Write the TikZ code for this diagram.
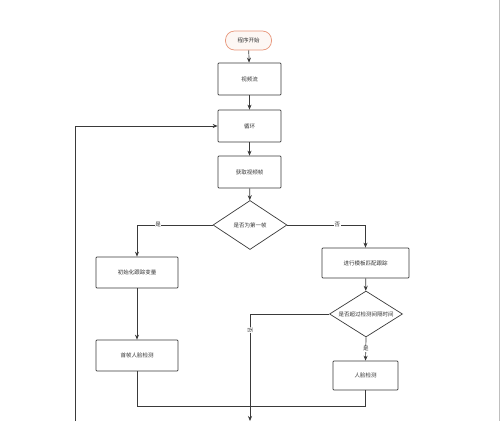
\documentclass[tikz,border=0pt]{standalone}
\usepackage{fontspec}
\newfontfamily\cjk{Noto Sans CJK SC}
\usetikzlibrary{shapes.geometric,arrows.meta}
\definecolor{ln}{HTML}{3A3A3A}
\definecolor{startc}{HTML}{E8967A}
\tikzset{
  every node/.style={font=\cjk\fontsize{5.5}{6.5}\selectfont, text=black!80},
  box/.style={draw=ln, line width=0.7pt, rectangle, rounded corners=0.8pt, fill=white, inner sep=0pt},
  dec/.style={draw=ln, line width=0.7pt, diamond, aspect=1.5, inner sep=0pt, fill=white},
  conn/.style={draw=ln, line width=0.7pt, -{Stealth[length=5pt,width=4pt]}},
  plain/.style={draw=ln, line width=0.7pt},
  lab/.style={fill=white, inner sep=0.5pt}
}
\begin{document}
\begin{tikzpicture}[x=1pt,y=-1pt]
\useasboundingbox[fill=white] (0,0) rectangle (500,421);
\draw[black!25, line width=0.8pt] (499,0) -- (499,421);
\node[draw=startc, fill=startc!8, line width=0.7pt, rounded corners=9pt, minimum width=46pt, minimum height=19pt] (start) at (248.5,40.5) {程序开始};
\node[box, minimum width=63pt, minimum height=32pt] (video) at (249.5,79) {视频流};
\node[box, minimum width=63pt, minimum height=32pt] (loop) at (249.5,126) {循环};
\node[box, minimum width=63pt, minimum height=32pt] (frame) at (249.5,172) {获取视频帧};
\node[dec, minimum width=74pt, minimum height=49pt] (first) at (250,225) {是否为第一帧};
\node[box, minimum width=82pt, minimum height=31pt] (init) at (137,272.5) {初始化跟踪变量};
\node[box, minimum width=82pt, minimum height=31pt] (fdet) at (137,355.5) {首帧人脸检测};
\node[box, minimum width=87pt, minimum height=30pt] (track) at (365.5,263) {进行模板匹配跟踪};
\node[dec, minimum width=73pt, minimum height=46pt] (interval) at (366,314) {是否超过检测间隔时间};
\node[box, minimum width=65pt, minimum height=29pt] (face) at (365.5,375.5) {人脸检测};
\coordinate (join) at (250,406.5);
\coordinate (bottom) at (250,421);
\coordinate (loopstart) at (75,421);
\coordinate (loopcorner) at (75,126);

\draw[conn] (start) -- (video);
\draw[conn] (video) -- (loop);
\draw[conn] (loop) -- (frame);
\draw[conn] (frame) -- (first);
\draw[conn] (first.west) -| node[lab, pos=0.36] {是} (init.north);
\draw[conn] (init) -- (fdet);
\draw[conn] (first.east) -| node[lab, pos=0.32] {否} (track.north);
\draw[conn] (track) -- (interval);
\draw[conn] (interval.south) -- node[lab, pos=0.5] {是} (face.north);
\draw[plain] (fdet.south) |- (join);
\draw[plain] (face.south) |- (join);
\draw[conn] (interval.west) -| node[lab, pos=0.575, rotate=-90] {否} (bottom);
\draw[conn] (loopstart) -- (loopcorner) -- (loop.west);
\end{tikzpicture}
\end{document}
